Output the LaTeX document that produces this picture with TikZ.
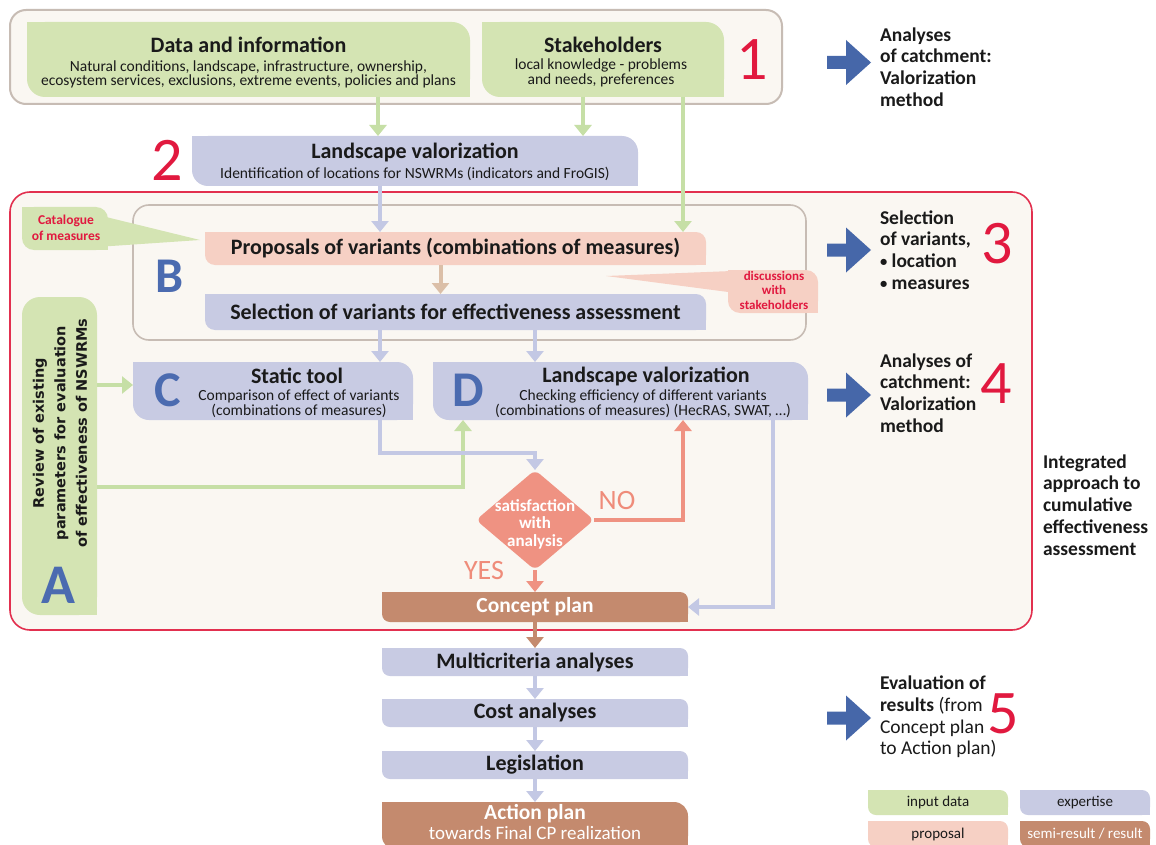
\documentclass[tikz,border=0pt]{standalone}
\usepackage{fontspec}
\setmainfont{Carlito}
\newfontfamily\dejavu{DejaVu Sans}
\usetikzlibrary{arrows.meta,shapes.geometric,calc}
\pgfdeclarelayer{bgl}\pgfdeclarelayer{midl}\pgfsetlayers{bgl,midl,main}
\definecolor{cgrn}{HTML}{D4E4B3}
\definecolor{cgrnA}{HTML}{C6DFA6}
\definecolor{clav}{HTML}{C8CBE3}
\definecolor{clavA}{HTML}{C3C8E4}
\definecolor{cpink}{HTML}{F6D0C4}
\definecolor{ctan}{HTML}{DBBFA8}
\definecolor{cbrown}{HTML}{C48A6E}
\definecolor{csal}{HTML}{EF9282}
\definecolor{cno}{HTML}{EF8C7A}
\definecolor{cblue}{HTML}{4667A9}
\definecolor{cletter}{HTML}{4B6BB0}
\definecolor{cred}{HTML}{E1193F}
\definecolor{cbeige}{HTML}{FAF7F2}
\definecolor{cgray}{HTML}{C7BCB4}
\definecolor{credb}{HTML}{E2304F}
\definecolor{ctxt}{HTML}{1A1A1A}
% shape: rounded top-right and bottom-left corners
\newcommand\shp[3]{%
  \fill[#2,rounded corners=#3] (#1.south west) rectangle (#1.north east);
  \fill[#2] (#1.north west) rectangle ([xshift=#3,yshift=-#3]#1.north west);
  \fill[#2] (#1.south east) rectangle ([xshift=-#3,yshift=#3]#1.south east);}
\newcommand\barr[1]{\fill[cblue,shift={(0,#1)}] (827,-6.5) -- (846,-6.5) -- (846,-22.5) -- (871,0) -- (846,22.5) -- (846,6.5) -- (827,6.5) -- cycle;}
\newcommand\sbul{\raisebox{1pt}{\scalebox{0.75}{\textbullet}}}
\begin{document}
\begin{tikzpicture}[x=1pt,y=-1pt,
  every node/.style={inner sep=0pt,outer sep=0pt},
  bx/.style 2 args={minimum width=#1pt,minimum height=#2pt},
  ttl/.style={font=\bfseries\fontsize{22}{24}\selectfont,text=ctxt},
  sub/.style={font=\fontsize{15.5}{13}\selectfont,align=center,text=ctxt},
  letter/.style={font=\bfseries\fontsize{50}{50}\selectfont,text=cletter},
  num/.style={font=\fontsize{62}{62}\selectfont,text=cred},
  side/.style={font=\bfseries\fontsize{19.5}{21.8}\selectfont,align=left,anchor=west,text=ctxt},
  call/.style={font=\bfseries\fontsize{13.5}{16}\selectfont,align=center,text=cred},
  arr/.style={line width=4pt,-{Triangle[width=17pt,length=11pt]}},
  lgd/.style={font=\fontsize{15}{15}\selectfont,text=ctxt}]
\useasboundingbox (0,0) rectangle (1156,845);
% ---------- big frames
\begin{pgfonlayer}{bgl}
  \fill[white] (0,0) rectangle (1156,845);
  \draw[cgray,fill=cbeige,line width=2pt,rounded corners=16pt] (10,10) rectangle (782,104);
  \draw[credb,fill=cbeige,line width=1.6pt,rounded corners=20pt] (10,192) rectangle (1032,630);
  \draw[cgray,fill=cbeige,line width=1.6pt,rounded corners=16pt] (133,205) rectangle (806,340);
\end{pgfonlayer}
% ---------- step 1
\node[bx={443}{75}] (data) at (248.5,59.5) {};
\node[ttl] (datat) at (248.5,45) {Data and information};
\node[sub] (datas) at (248.5,74) {Natural conditions, landscape, infrastructure, ownership,\\ecosystem services, exclusions, extreme events, policies and plans};
\node[bx={242}{75}] (stake) at (603,59.5) {};
\node[ttl] (staket) at (603,45) {Stakeholders};
\node[sub] (stakes) at (601,73) {local knowledge - problems\\and needs, preferences};
\node[num] (n1) at (752,60) {1};
% ---------- step 2
\node[bx={446}{50}] (lv) at (415,161) {};
\node[ttl] (lvt) at (415,152) {Landscape valorization};
\node[sub] (lvs) at (415,174) {Identification of locations for NSWRMs (indicators and FroGIS)};
\node[num] (n2) at (167,160) {2};
% ---------- B
\node[bx={501}{33},ttl] (prop) at (455.5,248.5) {Proposals of variants (combinations of measures)};
\node[bx={501}{36},ttl] (sel) at (455.5,312) {Selection of variants for effectiveness assessment};
\node[letter] (lB) at (170,276) {B};
\node[bx={86}{43}] (cat) at (65,228.5) {};
\coordinate (catp) at (200,240);
\node[call] (catt) at (66,228) {Catalogue\\of measures};
\node[bx={90}{43}] (dis) at (773,291.5) {};
\coordinate (disp) at (606,276);
\node[call,font=\bfseries\fontsize{13}{14.5}\selectfont] (dist) at (774,290) {discussions\\with\\stakeholders};
% ---------- C, D
\node[bx={280}{58}] (C) at (273,391) {};
\node[letter] (lC) at (168,390) {C};
\node[ttl] (Ct) at (297,376) {Static tool};
\node[sub] (Cs) at (299,404) {Comparison of effect of variants\\(combinations of measures)};
\node[bx={375}{58}] (D) at (620.5,391) {};
\node[letter] (lD) at (468,390) {D};
\node[ttl] (Dt) at (646,376) {Landscape valorization};
\node[sub] (Ds) at (643,404) {Checking efficiency of different variants\\(combinations of measures) (HecRAS, SWAT, \dots)};
% ---------- A
\node[bx={75}{318}] (A) at (59.5,456) {};
\node[rotate=90,align=center,font=\dejavu\bfseries\fontsize{14.5}{21.5}\selectfont,text=ctxt] (At) at (60,433) {Review of existing\\parameters for evaluation\\of effectiveness of NSWRMs};
\node[letter,font=\bfseries\fontsize{56}{56}\selectfont] (lA) at (58,585) {A};
% ---------- decision
\node[diamond,aspect=1.18,fill=csal,minimum width=118pt,minimum height=100pt,rounded corners=6pt] (dia) at (535,520) {};
\node[align=center,text=white,font=\bfseries\fontsize{17}{17.5}\selectfont] (diat) at (535,524) {satisfaction\\with\\analysis};
\node[font=\fontsize{28}{28}\selectfont,text=cno] (no) at (617,501) {NO};
\node[font=\fontsize{28}{28}\selectfont,text=cno] (yes) at (484,571) {YES};
% ---------- results chain
\node[bx={306}{30},text=white,font=\bfseries\fontsize{21.5}{22}\selectfont] (concept) at (535,607) {Concept plan};
\node[bx={306}{28},ttl] (multi) at (535,662) {Multicriteria analyses};
\node[bx={306}{28},ttl] (cost) at (535,713) {Cost analyses};
\node[bx={306}{28},ttl] (legis) at (535,765) {Legislation};
\node[bx={306}{48}] (action) at (535,826) {};
\node[text=white,font=\bfseries\fontsize{21.5}{22}\selectfont] (actt) at (535,814) {Action plan};
\node[text=white,font=\fontsize{19}{19}\selectfont] (acts) at (535,833) {towards Final CP realization};
% ---------- right side
\barr{62.5}\barr{250}\barr{395}\barr{718}
\node[side] (s1) at (880,67) {Analyses\\of catchment:\\Valorization\\method};
\node[side] (s3) at (880,250) {Selection\\of variants,\\\sbul{} location\\\sbul{} measures};
\node[num] (n3) at (997,244) {3};
\node[side] (s4) at (880,393) {Analyses of\\catchment:\\Valorization\\method};
\node[num] (n4) at (996,384) {4};
\node[side] (si) at (1043,505) {Integrated\\approach to\\cumulative\\effectiveness\\assessment};
\node[side,font=\fontsize{19.5}{21.8}\selectfont] (s5) at (880,717) {\textbf{Evaluation of}\\\textbf{results} (from\\Concept plan\\to Action plan)};
\node[num] (n5) at (1003,714) {5};
% ---------- legend
\node[bx={140}{25},lgd] (lg1) at (938,802.5) {input data};
\node[bx={130}{25},lgd] (lg2) at (1085,802.5) {expertise};
\node[bx={140}{26},lgd] (lg3) at (938,834) {proposal};
\node[bx={130}{26},lgd,text=white] (lg4) at (1085,834) {semi-result / result};
% ---------- fills
\begin{pgfonlayer}{midl}
  \shp{data}{cgrn}{18pt}
  \shp{stake}{cgrn}{18pt}
  \shp{lv}{clav}{16pt}
  \shp{prop}{cpink}{10pt}
  \shp{sel}{clav}{10pt}
  \shp{cat}{cgrn}{12pt}
  \fill[cgrn] ($(cat.east)+(-4,-12)$) -- (catp) -- ($(cat.east)+(-4,18)$) -- cycle;
  \shp{dis}{cpink}{12pt}
  \fill[cpink] ($(dis.north west)+(4,1)$) -- (disp) -- ($(dis.west)+(4,1)$) -- cycle;
  \shp{C}{clav}{16pt}
  \shp{D}{clav}{16pt}
  \fill[cgrn,rounded corners=18pt] (A.south west) rectangle (A.north east);
  \fill[cgrn] (A.south east) rectangle ([xshift=-18pt,yshift=18pt]A.south east);
  \shp{concept}{cbrown}{8pt}
  \shp{multi}{clav}{8pt}
  \shp{cost}{clav}{8pt}
  \shp{legis}{clav}{8pt}
  \shp{action}{cbrown}{14pt}
  \shp{lg1}{cgrn}{8pt}
  \shp{lg2}{clav}{8pt}
  \shp{lg3}{cpink}{8pt}
  \shp{lg4}{cbrown}{8pt}
\end{pgfonlayer}
% ---------- connectors
\draw[arr,cgrnA] ([xshift=129.5pt]data.south) -- ([xshift=129.5pt]data.south |- lv.north);
\draw[arr,cgrnA] ([xshift=-20pt]stake.south) -- ([xshift=-20pt]stake.south |- lv.north);
\draw[arr,cgrnA] ([xshift=80pt]stake.south) -- ([xshift=80pt]stake.south |- prop.north);
\draw[arr,clavA] ([xshift=-35pt]lv.south) -- ([xshift=-35pt]lv.south |- prop.north);
\draw[arr,ctan] ([xshift=-15pt]prop.south) -- ([xshift=-15pt]prop.south |- sel.north);
\draw[arr,clavA] ([xshift=-75.5pt]sel.south) -- ([xshift=-75.5pt]sel.south |- C.north);
\draw[arr,clavA] ([xshift=79.5pt]sel.south) -- ([xshift=79.5pt]sel.south |- D.north);
\draw[arr,cgrnA] ([yshift=71pt]A.east) -- ([yshift=71pt]A.east -| C.west);
\draw[arr,cgrnA] ([yshift=-31pt]A.east) -| ([xshift=30pt]D.south west);
\draw[arr,clavA] ([xshift=-33pt]C.south east) -- ++(0,33) -| (dia.north);
\draw[arr,csal] (dia.east) -| ([xshift=250pt]D.south west);
\draw[arr,csal] (dia.south) -- (concept.north);
\draw[arr,clavA] ([xshift=-35pt]D.south east) |- (concept.east);
\draw[arr,cbrown] (concept.south) -- (multi.north);
\draw[arr,clavA] (multi.south) -- (cost.north);
\draw[arr,clavA] (cost.south) -- (legis.north);
\draw[arr,clavA] (legis.south) -- (action.north);
\end{tikzpicture}
\end{document}
